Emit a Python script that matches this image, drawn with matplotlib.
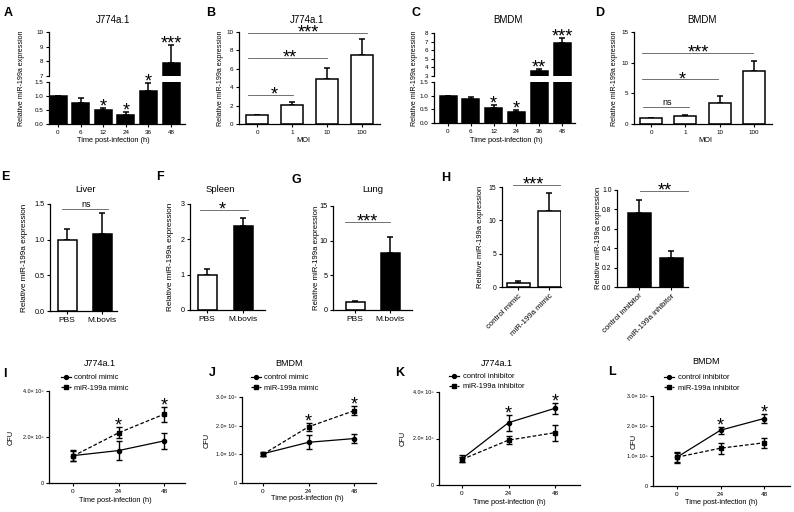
import matplotlib
matplotlib.use('Agg')
import matplotlib.pyplot as plt
from matplotlib.lines import Line2D
import numpy as np

plt.rcParams['font.family'] = ['Liberation Sans', 'DejaVu Sans']

# ---------------- data ----------------
time_labels = ['0', '6', '12', '24', '36', '48']
moi_labels = ['0', '1', '10', '100']

a_mean = [1.0, 0.75, 0.49, 0.33, 1.19, 7.87]
a_err = [0.0, 0.18, 0.09, 0.11, 0.26, 1.23]
a_stars = ['', '', '*', '*', '*', '***']

b_mean = [1.0, 2.07, 4.86, 7.5]
b_err = [0.0, 0.33, 1.24, 1.7]

c_mean = [1.0, 0.88, 0.55, 0.40, 3.55, 6.8]
c_err = [0.0, 0.08, 0.10, 0.09, 0.28, 0.65]
c_stars = ['', '', '*', '*', '**', '***']

d_mean = [1.0, 1.33, 3.37, 8.65]
d_err = [0.0, 0.15, 1.2, 1.6]

organ_labels = ['PBS', 'M.bovis']
liver_mean = [1.0, 1.08]
liver_err = [0.15, 0.30]
spleen_mean = [1.0, 2.38]
spleen_err = [0.15, 0.23]
lung_mean = [1.1, 8.27]
lung_err = [0.25, 2.25]

mimic_labels = ['control mimic', 'miR-199a mimic']
mimic_mean = [0.65, 11.45]
mimic_err = [0.2, 2.6]
inhib_labels = ['control inhibitor', 'miR-199a inhibitor']
inhib_mean = [0.76, 0.30]
inhib_err = [0.14, 0.07]

cfu_time = [0, 24, 48]
i_ctrl = [1.19e6, 1.41e6, 1.83e6]
i_ctrl_err = [0.25e6, 0.40e6, 0.35e6]
i_mir = [1.17e6, 2.18e6, 2.99e6]
i_mir_err = [0.20e6, 0.24e6, 0.33e6]

j_ctrl = [1.02e6, 1.42e6, 1.55e6]
j_ctrl_err = [0.07e6, 0.25e6, 0.15e6]
j_mir = [1.0e6, 1.96e6, 2.52e6]
j_mir_err = [0.06e6, 0.14e6, 0.16e6]

k_ctrl = [1.13e6, 2.68e6, 3.30e6]
k_ctrl_err = [0.14e6, 0.34e6, 0.23e6]
k_mir = [1.1e6, 1.93e6, 2.25e6]
k_mir_err = [0.12e6, 0.16e6, 0.34e6]

l_ctrl = [0.96e6, 1.86e6, 2.25e6]
l_ctrl_err = [0.18e6, 0.11e6, 0.15e6]
l_mir = [0.96e6, 1.26e6, 1.44e6]
l_mir_err = [0.15e6, 0.18e6, 0.16e6]

YLAB = 'Relative miR-199a expression'
TLAB = 'Time post-infection (h)'

# ---------------- layout helpers (pixel boxes) ----------------
W, H = 794, 512
fig = plt.figure(figsize=(W / 100, H / 100), dpi=100)
STAR_FS = 13


def px_ax(left, top, right, bottom):
    return fig.add_axes([left / W, 1 - bottom / H, (right - left) / W, (bottom - top) / H])


def ftext(x, y, s, **kw):
    fig.text(x / W, 1 - y / H, s, **kw)


def style(ax, fs):
    for s in ['top', 'right']:
        ax.spines[s].set_visible(False)
    for s in ['left', 'bottom']:
        ax.spines[s].set_linewidth(0.9)
    ax.tick_params(direction='out', length=2.5, width=0.8, labelsize=fs, pad=1.5)


def bars(ax, mean, err, centers, width, left, right, color):
    s = (centers[-1] - centers[0]) / (len(mean) - 1)
    x = np.arange(len(mean))
    ax.bar(x, mean, width=width / s, color=color, edgecolor='k', linewidth=1.1, zorder=2)
    ax.errorbar(x, mean, yerr=[np.zeros(len(err)), err], fmt='none', ecolor='k',
                elinewidth=1.1, capsize=2.5, capthick=1.1, zorder=1)
    ax.set_xlim((left - centers[0]) / s, (right - centers[0]) / s)
    ax.set_xticks(x)


def star(ax, x, y, s, fs=STAR_FS, dy=-2.5):
    ax.annotate(s, (x, y), xytext=(0, dy), textcoords='offset points', ha='center',
                va='baseline', fontsize=fs, annotation_clip=False)


def sig(ax, x0, x1, y, label, tx):
    ax.plot([x0, x1], [y, y], color='0.35', lw=0.6, clip_on=False)
    if label == 'ns':
        ax.annotate('ns', (tx, y), xytext=(0, 0.3), textcoords='offset points', ha='center',
                    va='bottom', fontsize=6.5, annotation_clip=False)
    else:
        star(ax, tx, y, label, dy=-3.5)


def panel_letter(x, y, s):
    ftext(x, y, s, fontsize=9, fontweight='bold', ha='center', va='center')


# ---------------- row 1 ----------------
def broken_panel(mean, err, stars, centers, left, right, utop, ubot, ltop, lbot, ulim, uticks):
    axu = px_ax(left, utop, right, ubot)
    axl = px_ax(left, ltop, right, lbot)
    for ax in (axu, axl):
        bars(ax, mean, err, centers, 17, left, right, 'k')
        style(ax, 4.5)
    axu.set_ylim(*ulim)
    axu.set_yticks(uticks)
    axu.spines['bottom'].set_visible(False)
    axu.set_xticks([])
    axl.set_ylim(0, 1.5)
    axl.set_yticks([0, 0.5, 1.0, 1.5])
    axl.set_xticklabels(time_labels)
    for i, s in enumerate(stars):
        if not s:
            continue
        top = mean[i] + err[i]
        star(axu if top > ulim[0] else axl, i, top, s)
    return axu, axl


broken_panel(a_mean, a_err, a_stars, [58, 81, 104, 126, 148, 171], 49, 185, 32, 76, 82, 124,
             (7, 10), [7, 8, 9, 10])
broken_panel(c_mean, c_err, c_stars, [448, 471, 494, 517, 539, 562], 434, 575, 33, 76, 82, 123,
             (3, 8), [3, 4, 5, 6, 7, 8])

axb = px_ax(239, 32, 380, 124)
bars(axb, b_mean, b_err, [257, 292, 328, 362], 22, 239, 380, 'w')
style(axb, 4.5)
axb.set_ylim(0, 10)
axb.set_yticks([0, 2, 4, 6, 8, 10])
axb.set_xticklabels(moi_labels)
sig(axb, -0.26, 1.03, 3.15, '*', 0.49)
sig(axb, -0.26, 2.0, 7.2, '**', 0.94)
sig(axb, -0.26, 3.14, 9.9, '***', 1.46)

axd = px_ax(634, 32, 772, 124)
bars(axd, d_mean, d_err, [651, 685, 720, 754], 22, 634, 772, 'w')
style(axd, 4.5)
axd.set_ylim(0, 15)
axd.set_yticks([0, 5, 10, 15])
axd.set_xticklabels(moi_labels)
sig(axd, -0.23, 1.1, 2.77, 'ns', 0.47)
sig(axd, -0.26, 1.95, 7.3, '*', 0.9)
sig(axd, -0.26, 2.97, 11.6, '***', 1.37)

for x, s in [(113, 'J774a.1'), (307, 'J774a.1'), (508, 'BMDM'), (702, 'BMDM')]:
    ftext(x, 20, s, fontsize=7, ha='center', va='center')
for x, s in [(113, TLAB), (303, 'MOI'), (506, TLAB), (705, 'MOI')]:
    ftext(x, 140, s, fontsize=5.3, ha='center', va='center')
for x in [22, 220, 414, 615]:
    ftext(x, 78, YLAB, fontsize=5.1, rotation=90, ha='center', va='center')
for x, s in [(8, 'A'), (211, 'B'), (416, 'C'), (600, 'D')]:
    panel_letter(x, 13, s)

# ---------------- row 2 ----------------
def organ_panel(mean, err, centers, left, right, top, bottom, ylim, yticks, title, tx):
    ax = px_ax(left, top, right, bottom)
    bars(ax, mean, err, centers, 19, left, right, ['w', 'k'])
    style(ax, 5.2)
    ax.set_ylim(*ylim)
    ax.set_yticks(yticks)
    ax.set_xticklabels(organ_labels, fontsize=6)
    ftext(tx, 190, title, fontsize=6.8, ha='center', va='center')
    return ax


axe = organ_panel(liver_mean, liver_err, [67, 102], 50, 117, 204, 311, (0, 1.5),
                  [0, 0.5, 1.0, 1.5], 'Liver', 86)
sig(axe, -0.14, 1.17, 1.43, 'ns', 0.54)
axf = organ_panel(spleen_mean, spleen_err, [207, 243], 190, 265, 204, 310, (0, 3),
                  [0, 1, 2, 3], 'Spleen', 220)
sig(axf, -0.19, 1.14, 2.83, '*', 0.42)
axg = organ_panel(lung_mean, lung_err, [355, 390], 333, 412, 206, 310, (0, 15),
                  [0, 5, 10, 15], 'Lung', 373)
sig(axg, -0.29, 1.0, 12.7, '***', 0.34)


def h_panel(mean, err, labels, centers, left, right, top, bottom, ylim, yticks, color):
    ax = px_ax(left, top, right, bottom)
    bars(ax, mean, err, centers, 23, left, right, color)
    style(ax, 4.9)
    ax.set_ylim(*ylim)
    ax.set_yticks(yticks)
    ax.set_xticklabels(labels, fontsize=5.6, rotation=45, ha='right', rotation_mode='anchor')
    return ax


axh1 = h_panel(mimic_mean, mimic_err, mimic_labels, [518, 549], 502, 561, 187, 287, (0, 15),
               [0, 5, 10, 15], 'w')
sig(axh1, -0.16, 1.35, 15.3, '***', 0.48)
axh2 = h_panel(inhib_mean, inhib_err, inhib_labels, [639, 671], 617, 688, 190, 287, (0, 1.0),
               [0, 0.2, 0.4, 0.6, 0.8, 1.0], 'k')
axh2.set_yticklabels(['0.0', '0.2', '0.4', '0.6', '0.8', '1.0'])
sig(axh2, 0.03, 1.53, 0.99, '**', 0.81)

for x, yc, fs in [(25, 258, 5.9), (170, 257, 5.9), (316, 258, 5.6), (480, 237, 5.5),
                  (598, 238, 5.5)]:
    ftext(x, yc, YLAB, fontsize=fs, rotation=90, ha='center', va='center')
for x, y, s in [(5, 177, 'E'), (160, 177, 'F'), (296, 180, 'G'), (446, 178, 'H')]:
    panel_letter(x, y, s)

# ---------------- row 3 ----------------
def cfu_panel(ctrl, ctrl_err, mir, mir_err, labels, box, x0px, x48px, ymax, yticks, ylabels,
              ylab_x, title, title_xy, leg_xy, xlab_xy):
    left, top, right, bottom = box
    ax = px_ax(left, top, right, bottom)
    s = (x48px - x0px) / 48
    ax.set_xlim((left - x0px) / s, 48 + (right - x48px) / s)
    ax.set_ylim(0, ymax)
    ax.errorbar(cfu_time, ctrl, yerr=ctrl_err, fmt='-o', color='k', ms=3, lw=0.9,
                elinewidth=1.0, capsize=2, capthick=1.0)
    ax.errorbar(cfu_time, mir, yerr=mir_err, fmt='s', color='k', ms=3,
                elinewidth=1.0, capsize=2, capthick=1.0)
    ax.plot(cfu_time, mir, color='k', lw=0.9, dashes=(3, 1.6))
    style(ax, 4.6)
    ax.set_xticks(cfu_time)
    ax.set_yticks(yticks)
    ax.set_yticklabels(ylabels, fontsize=3.9)
    for i in (1, 2):
        top_v = max(ctrl[i] + ctrl_err[i], mir[i] + mir_err[i])
        star(ax, cfu_time[i], top_v, '*')
    handles = [Line2D([], [], color='k', marker='o', ms=2.8, lw=0.9),
               Line2D([], [], color='k', marker='s', ms=2.8, lw=0.9, dashes=(2, 1.2))]
    ax.legend(handles, labels, loc='upper left', bbox_to_anchor=(leg_xy[0] / W, 1 - leg_xy[1] / H),
              bbox_transform=fig.transFigure, frameon=False, fontsize=5.4, handlelength=1.3,
              handletextpad=0.5, borderpad=0, borderaxespad=0, labelspacing=0.4)
    ftext(title_xy[0], title_xy[1], title, fontsize=6.5, ha='center', va='center')
    ftext(xlab_xy[0], xlab_xy[1], TLAB, fontsize=5.3, ha='center', va='center')
    ftext(ylab_x, (top + bottom) / 2, 'CFU', fontsize=5.3, rotation=90, ha='center', va='center')
    return ax


lab4 = ['0', '2.0× 10⁶', '4.0× 10⁶']
lab3 = ['0', '1.0× 10⁶', '2.0× 10⁶', '3.0× 10⁶']
cfu_panel(i_ctrl, i_ctrl_err, i_mir, i_mir_err, mimic_labels, (49, 391, 185, 483), 73, 164,
          4e6, [0, 2e6, 4e6], lab4, 11, 'J774a.1', (100, 363), (61, 374), (115, 500))
cfu_panel(j_ctrl, j_ctrl_err, j_mir, j_mir_err, mimic_labels, (242, 397, 376, 483), 263, 354,
          3e6, [0, 1e6, 2e6, 3e6], lab3, 207, 'BMDM', (289, 363), (251, 374), (307, 498))
cfu_panel(k_ctrl, k_ctrl_err, k_mir, k_mir_err, inhib_labels, (439, 392, 580, 485), 462, 555,
          4e6, [0, 2e6, 4e6], lab4, 403, 'J774a.1', (497, 363), (449, 373), (509, 502))
cfu_panel(l_ctrl, l_ctrl_err, l_mir, l_mir_err, inhib_labels, (653, 396, 790, 486), 677, 764,
          3e6, [0, 1e6, 2e6, 3e6], lab3, 634, 'BMDM', (706, 362), (664, 374), (721, 503))

for x, y, s in [(5, 374, 'I'), (212, 373, 'J'), (400, 373, 'K'), (612, 372, 'L')]:
    panel_letter(x, y, s)

fig.savefig('out.png', dpi=100)
